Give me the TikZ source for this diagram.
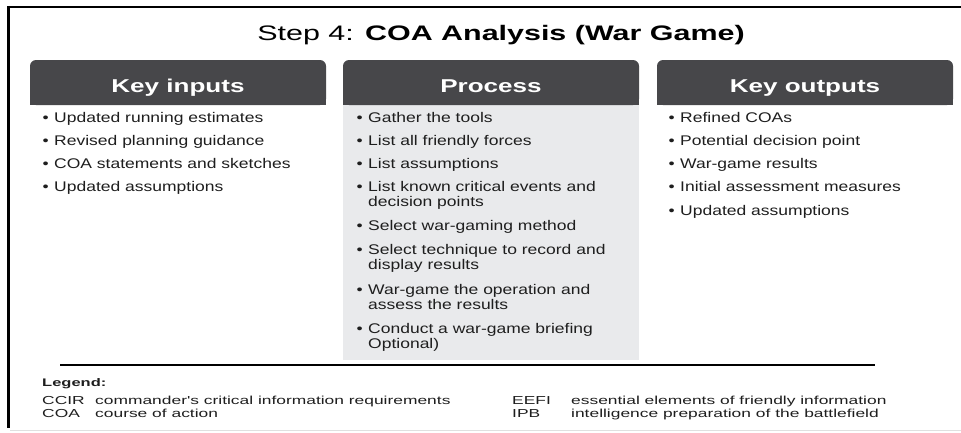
\documentclass[tikz,border=0pt]{standalone}
\usepackage{fontspec}
\setmainfont{Liberation Sans}
\newfontfamily\titlefont[FakeStretch=1.45]{Liberation Sans}
\newfontfamily\headfont[FakeStretch=1.4]{Liberation Sans}
\newfontfamily\bodyfont[FakeStretch=1.25]{Liberation Sans}
\newfontfamily\legfont[FakeStretch=1.5]{Liberation Sans}
\definecolor{headgrey}{HTML}{47474A}
\definecolor{panelgrey}{HTML}{E9EAEC}
\definecolor{txt}{HTML}{1E1E1E}
\newcommand{\bul}{\llap{\textbullet\hspace{5.5pt}}}
\begin{document}
\begin{tikzpicture}[x=1pt,y=-1pt,
  headbox/.style={fill=headgrey, rounded corners=6pt, minimum width=296pt, minimum height=45pt, inner sep=0pt, draw=none},
  headtext/.style={anchor=base, text=white, inner sep=0pt, font=\headfont\bfseries\fontsize{18.6}{20}\selectfont},
  bl/.style={anchor=base west, inner sep=0pt, text=txt, font=\bodyfont\fontsize{14}{15}\selectfont},
  lg/.style={anchor=base west, inner sep=0pt, text=txt, font=\legfont\fontsize{11.6}{13}\selectfont}]
\useasboundingbox (0,0) rectangle (961,432);
% frame
\draw[line width=2.5pt] (8.7,7) -- (961,7);
\draw[line width=2.5pt] (8.7,5.75) -- (8.7,428);
\draw[black!12, line width=1pt] (10,430.5) -- (961,430.5);
% title
\node[anchor=base, inner sep=0pt, font=\titlefont\fontsize{21}{24}\selectfont] (title) at (501,40) {Step 4: \textbf{COA Analysis (War Game)}};
% process panel
\fill[panelgrey] (343,105) rectangle (639,360);
% headers
\node[headbox] (kin) at (178,82.5) {};
\node[headbox] (proc) at (491,82.5) {};
\node[headbox] (kout) at (805,82.5) {};
\foreach \n in {kin,proc,kout}{\fill[headgrey] (\n.west) rectangle (\n.south east);}
\node[headtext] (kint) at (178,92) {Key inputs};
\node[headtext] (proct) at (491,92) {Process};
\node[headtext] (koutt) at (805,92) {Key outputs};
% key inputs
\node[bl] (i1) at (54,122) {\bul Updated running estimates};
\node[bl] (i2) at (54,145.5) {\bul Revised planning guidance};
\node[bl] (i3) at (54,168.5) {\bul COA statements and sketches};
\node[bl] (i4) at (54,191.5) {\bul Updated assumptions};
% process
\node[bl] (p1) at (368,122) {\bul Gather the tools};
\node[bl] (p2) at (368,145.5) {\bul List all friendly forces};
\node[bl] (p3) at (368,168.5) {\bul List assumptions};
\node[bl] (p4) at (368,191.5) {\bul List known critical events and};
\node[bl] (p4b) at (368,206.5) {decision points};
\node[bl] (p5) at (368,230) {\bul Select war-gaming method};
\node[bl] (p6) at (368,254) {\bul Select technique to record and};
\node[bl] (p6b) at (368,269) {display results};
\node[bl] (p7) at (368,294) {\bul War-game the operation and};
\node[bl] (p7b) at (368,309) {assess the results};
\node[bl] (p8) at (368,333) {\bul Conduct a war-game briefing};
\node[bl] (p8b) at (368,348) {Optional)};
% key outputs
\node[bl] (o1) at (680,122) {\bul Refined COAs};
\node[bl] (o2) at (680,145.5) {\bul Potential decision point};
\node[bl] (o3) at (680,168.5) {\bul War-game results};
\node[bl] (o4) at (680,191.5) {\bul Initial assessment measures};
\node[bl] (o5) at (680,215) {\bul Updated assumptions};
% rule
\draw[line width=2pt] (60,365) -- (875,365);
% legend
\node[lg, font=\legfont\bfseries\fontsize{11}{13}\selectfont] (leg) at (42,386) {Legend:};
\node[lg] (a1) at (42,404) {CCIR};
\node[lg] (d1) at (95,404) {commander's critical information requirements};
\node[lg] (a2) at (42,417) {COA};
\node[lg] (d2) at (95,417) {course of action};
\node[lg] (a3) at (512,404) {EEFI};
\node[lg] (d3) at (571,404) {essential elements of friendly information};
\node[lg] (a4) at (512,417) {IPB};
\node[lg] (d4) at (571,417) {intelligence preparation of the battlefield};
\end{tikzpicture}
\end{document}
